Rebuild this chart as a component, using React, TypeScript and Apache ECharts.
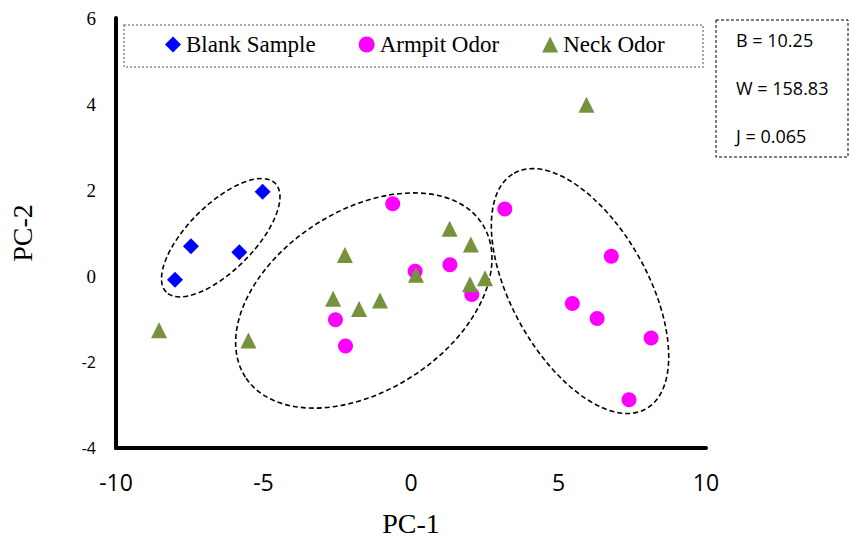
import React, { useEffect, useRef } from "react";
import * as echarts from "echarts";

const blankSample: [number, number][] = [
  [-5.03, 1.96],
  [-7.46, 0.69],
  [-5.82, 0.55],
  [-8.0, -0.09],
];

const armpitOdor: [number, number][] = [
  [-0.62, 1.68],
  [3.18, 1.56],
  [6.79, 0.46],
  [1.32, 0.26],
  [0.14, 0.11],
  [2.06, -0.43],
  [5.47, -0.64],
  [6.31, -0.99],
  [8.14, -1.44],
  [7.39, -2.88],
  [-2.56, -1.02],
  [-2.22, -1.63],
];

const neckOdor: [number, number][] = [
  [5.95, 3.98],
  [1.31, 1.1],
  [2.03, 0.73],
  [-2.24, 0.49],
  [0.17, 0.03],
  [2.0, -0.19],
  [2.51, -0.05],
  [-2.64, -0.53],
  [-1.76, -0.77],
  [-1.05, -0.57],
  [-8.54, -1.26],
  [-5.51, -1.5],
];

const seriesNames = ["Blank Sample", "Armpit Odor", "Neck Odor"];
const statsLines = ["B = 10.25", "W = 158.83", "J = 0.065"];

// cluster ellipses: center in data units, radii in px, rotation in degrees
const clusterCenters: [number, number][] = [
  [-6.45, 0.89],
  [-1.6, -0.57],
  [5.73, -0.35],
];
const clusterRadii: [number, number][] = [
  [77, 33],
  [141, 90],
  [135, 68],
];
const clusterAngles = [45, 32.9, -60.8];

export default function App() {
  const ref = useRef<HTMLDivElement>(null);
  useEffect(() => {
    if (!ref.current) return;
    const chart = echarts.init(ref.current, null, { renderer: "svg" });
    const serif = "'Liberation Serif', 'Times New Roman', serif";
    const sans = "'Open Sans', 'Liberation Sans', sans-serif";
    chart.setOption({
      animation: false,
      backgroundColor: "#ffffff",
      grid: { left: 114, right: 143, top: 18, bottom: 93.5, containLabel: false },
      xAxis: {
        type: "value",
        min: -10,
        max: 10,
        interval: 5,
        name: "PC-1",
        nameLocation: "middle",
        nameGap: 61,
        nameTextStyle: { fontFamily: serif, fontSize: 28, color: "#000" },
        axisLine: { show: true, onZero: false, lineStyle: { color: "#000", width: 4 } },
        axisTick: { show: false },
        splitLine: { show: false },
        axisLabel: { fontFamily: sans, fontSize: 23, color: "#000", margin: 22 },
      },
      yAxis: {
        type: "value",
        min: -4,
        max: 6,
        interval: 2,
        name: "PC-2",
        nameLocation: "middle",
        nameRotate: 90,
        nameGap: 80,
        nameTextStyle: { fontFamily: serif, fontSize: 28, color: "#000" },
        axisLine: { show: true, onZero: false, lineStyle: { color: "#000", width: 4 } },
        axisTick: { show: false },
        splitLine: { show: false },
        axisLabel: {
          margin: 20,
          formatter: (v: number) => (v < 0 ? `{s|${v}}` : `{t|${v}}`),
          rich: {
            s: { fontFamily: sans, fontSize: 16, color: "#000" },
            t: { fontFamily: serif, fontSize: 19, color: "#000" },
          },
        },
      },
      legend: {
        left: 165,
        top: 33,
        itemWidth: 16,
        itemHeight: 16,
        itemGap: 43,
        padding: 0,
        textStyle: { fontFamily: serif, fontSize: 23, color: "#000" },
        data: [
          { name: seriesNames[0], icon: "diamond" },
          { name: seriesNames[1], icon: "circle" },
          { name: seriesNames[2], icon: "triangle" },
        ],
      },
      series: [
        {
          name: seriesNames[0],
          type: "scatter",
          symbol: "diamond",
          symbolSize: 16,
          itemStyle: { color: "#0000FF", opacity: 1 },
          data: blankSample,
          z: 3,
        },
        {
          name: seriesNames[1],
          type: "scatter",
          symbol: "circle",
          symbolSize: 15,
          itemStyle: { color: "#FF00FF", opacity: 1 },
          data: armpitOdor,
          z: 3,
        },
        {
          name: seriesNames[2],
          type: "scatter",
          symbol: "triangle",
          symbolSize: 16,
          itemStyle: { color: "#76923C", opacity: 1 },
          data: neckOdor,
          z: 4,
        },
      ],
    });

    const ellipses = clusterCenters.map((c, i) => {
      const p = chart.convertToPixel({ xAxisIndex: 0, yAxisIndex: 0 }, c) as number[];
      return {
        type: "ellipse",
        id: "cluster" + i,
        x: p[0],
        y: p[1],
        rotation: (clusterAngles[i] * Math.PI) / 180,
        shape: { cx: 0, cy: 0, rx: clusterRadii[i][0], ry: clusterRadii[i][1] },
        style: { fill: "transparent", stroke: "#000", lineWidth: 1.6, lineDash: [5, 3] },
        silent: true,
        z: 2,
      };
    });

    chart.setOption({
      graphic: [
        {
          type: "rect",
          id: "legendBox",
          shape: { x: 124, y: 25, width: 579, height: 42 },
          style: { fill: "transparent", stroke: "#8c8c8c", lineWidth: 1.5, lineDash: [2, 2] },
          silent: true,
          z: 1,
        },
        {
          type: "rect",
          id: "statsBox",
          shape: { x: 716, y: 20, width: 132, height: 137 },
          style: { fill: "#fff", stroke: "#000", lineWidth: 1, lineDash: [3, 2] },
          silent: true,
          z: 1,
        },
        ...statsLines.map((t, i) => ({
          type: "text",
          id: "stat" + i,
          x: 736,
          y: 40 + i * 48,
          style: {
            text: t,
            fontFamily: sans,
            fontSize: 18,
            fill: "#000",
            textVerticalAlign: "middle",
            verticalAlign: "middle",
          },
          silent: true,
          z: 2,
        })),
        ...ellipses,
      ],
    });

    return () => chart.dispose();
  }, []);
  return (
    <div
      ref={ref}
      style={{ position: "fixed", left: 0, top: 0, width: 849, height: 542 }}
    />
  );
}
